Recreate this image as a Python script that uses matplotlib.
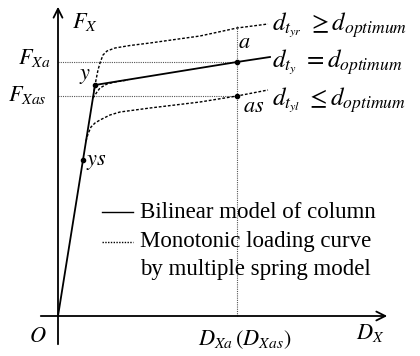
import matplotlib
matplotlib.use("Agg")
import matplotlib.pyplot as plt

plt.rcParams['font.family'] = 'Liberation Serif'
plt.rcParams['mathtext.fontset'] = 'stix'

# bilinear model of the column: origin -> yield point y -> point a and beyond
bilinear_D = [0, 37, 179, 212]
bilinear_F = [0, 231, 254, 259]
ys_point = (25, 156)
y_point = (37, 231)
a_point = (179, 254)
as_point = (179, 220)

# monotonic loading curves from the multiple spring model
upper_D = [36, 38, 40, 42, 45, 49, 57, 72, 92, 142, 179, 210]
upper_F = [225, 236, 246, 253, 261, 265, 268, 270.5, 273, 280, 288, 292]
middle_D = [35, 37, 39, 42, 49, 57, 70]
middle_F = [218, 221, 224, 228, 232, 234, 236]
lower_D = [28, 30, 33, 37, 42, 52, 62, 77, 92, 142, 179, 210]
lower_F = [175, 182, 189, 193, 196, 201, 204, 206, 208, 214, 220, 226]

fig = plt.figure(figsize=(4.2, 3.56), dpi=100)
ax = fig.add_axes([0, 0, 1, 1])
ax.set_xlim(-58, 362)
ax.set_ylim(-40, 316)
ax.axis('off')

# axes with arrow heads
arr = dict(arrowstyle='->', lw=1.3, color='black', mutation_scale=16)
ax.annotate('', xy=(0, 312), xytext=(0, -31), arrowprops=arr)
ax.annotate('', xy=(332, 0), xytext=(-20, 0), arrowprops=arr)

# reference lines through a and as
ref = dict(color='#555555', lw=0.8, ls=(0, (1, 1)))
ax.plot([0, a_point[0]], [a_point[1], a_point[1]], **ref)
ax.plot([0, as_point[0]], [as_point[1], as_point[1]], **ref)
ax.plot([a_point[0], a_point[0]], [0, 291], **ref)

dash = (0, (2, 1.3))
for D, F in [(upper_D, upper_F), (middle_D, middle_F), (lower_D, lower_F)]:
    ax.plot(D, F, color='black', lw=1.0, ls=dash)

ax.plot(bilinear_D, bilinear_F, color='black', lw=1.3)
for p in [ys_point, y_point, a_point, as_point]:
    ax.plot(*p, 'o', color='black', ms=3)

fs = 16
ax.text(14, 294, r'$F_X$', fontsize=fs, va='center', ha='left')
ax.text(-8, 258, r'$F_{Xa}$', fontsize=fs, va='center', ha='right')
ax.text(-11, 221, r'$F_{Xas}$', fontsize=fs, va='center', ha='right')
ax.text(27, 240, r'$y$', fontsize=fs, va='center', ha='center')
ax.text(28, 154, r'$ys$', fontsize=fs, va='center', ha='left')
ax.text(180, 273, r'$a$', fontsize=fs, va='center', ha='left')
ax.text(185, 209, r'$as$', fontsize=fs, va='center', ha='left')

fd = 18
ax.text(214, 291, r'$d_{t_{yr}}\ \geq d_{optimum}$', fontsize=fd, va='center', ha='left')
ax.text(214, 254, r'$d_{t_{y}}\ = d_{optimum}$', fontsize=fd, va='center', ha='left')
ax.text(214, 216, r'$d_{t_{yl}}\ \leq d_{optimum}$', fontsize=fd, va='center', ha='left')

ax.text(-20, -21, r'$O$', fontsize=fs, va='center', ha='center')
ax.text(187, -24, r'$D_{Xa}\,(D_{Xas})$', fontsize=fs, va='center', ha='center')
ax.text(312, -17, r'$D_X$', fontsize=fs, va='center', ha='center')

# legend drawn by hand
fl = 16.5
ax.plot([44, 75], [104, 104], color='black', lw=1.0)
ax.plot([44, 75], [74, 74], color='black', lw=1.0, ls=(0, (1, 1)))
ax.text(82, 104, 'Bilinear model of column', fontsize=fl, va='center', ha='left')
ax.text(82, 74, 'Monotonic loading curve', fontsize=fl, va='center', ha='left')
ax.text(82, 46, 'by multiple spring model', fontsize=fl, va='center', ha='left')

fig.savefig('out.png', dpi=100)
